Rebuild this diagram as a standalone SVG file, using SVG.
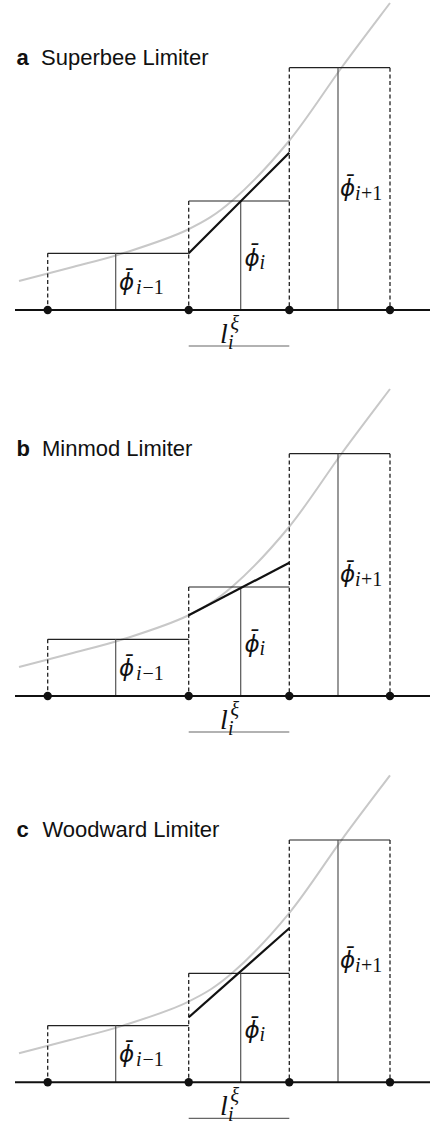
<svg xmlns="http://www.w3.org/2000/svg" width="431" height="1124" viewBox="0 0 431 1124">
<style>
.axis{stroke:#111;stroke-width:2}
.box{stroke:#222;stroke-width:1.2;fill:none}
.mid{stroke:#555;stroke-width:1.2}
.dash{stroke:#222;stroke-width:1.3;stroke-dasharray:4 2.7}
.curve{stroke:#c8c8c8;stroke-width:2;fill:none}
.recon{stroke:#111;stroke-width:2.2}
.dot{fill:#111}
.ul{stroke:#666;stroke-width:1.2}
.title{font-family:"Liberation Sans",Arial,sans-serif;font-size:22px;fill:#111}
.tb{font-weight:bold}
.math{font-family:"Liberation Serif","Times New Roman",serif;font-style:italic;font-size:25px;fill:#111}
.phi{font-family:"DejaVu Sans",sans-serif;font-size:23px}
.ell{font-size:28px}
.sub{font-size:20px}
.up{font-style:normal}
</style>
<rect width="431" height="1124" fill="#fff"/>
<defs>
<g id="base">
<path class="curve" d="M19,281 C27.5,278.8 52.7,272.3 70,267.7 C87.3,263.1 103.5,259.6 123,253.3 C142.5,247 168.7,238.9 187,230 C205.3,221.1 216,214.8 233,200 C250,185.2 270.8,163.2 289,141 C307.2,118.8 325.2,90 342,67 C358.8,44 382,13.7 390,3"/>
<path class="box" d="M47.7,253.3 H188.7 M188.7,201 H289.3 M289.3,67.7 H390"/>
<path class="mid" d="M115.7,253.3 V310 M240.7,201 V310 M338,67.7 V310"/>
<path class="dash" d="M47.7,253.3 V310 M188.7,201 V310 M289.3,67.7 V310 M390,67.7 V310"/>
</g>
<g id="axis">
<line class="axis" x1="15" y1="310" x2="430" y2="310"/>
<circle class="dot" cx="47.7" cy="310" r="4.2"/>
<circle class="dot" cx="188.7" cy="310" r="4.2"/>
<circle class="dot" cx="289.3" cy="310" r="4.2"/>
<circle class="dot" cx="390" cy="310" r="4.2"/>
<line class="ul" x1="188.7" y1="346" x2="289.3" y2="346"/>
</g>
</defs>

<g id="panel-a">
<text class="title" y="64.5"><tspan class="tb" x="16.5">a</tspan><tspan x="41">Superbee Limiter</tspan></text>
<use href="#base"/>
<line class="recon" x1="188.7" y1="253.3" x2="289.3" y2="152.7"/>
<use href="#axis"/>
<text class="math"><tspan class="phi" x="119" y="290">ϕ̄</tspan><tspan class="sub" x="136" y="293.5">i</tspan><tspan class="sub up" dx="1">−1</tspan></text>
<text class="math"><tspan class="phi" x="244.5" y="265.5">ϕ̄</tspan><tspan class="sub" x="259.5" y="268.5">i</tspan></text>
<text class="math"><tspan class="phi" x="340" y="196">ϕ̄</tspan><tspan class="sub" x="355" y="199.5">i</tspan><tspan class="sub up" dx="0.5">+1</tspan></text>
<text class="math"><tspan class="ell" x="220" y="342.5">l</tspan><tspan class="sub" x="230.5" y="330">ξ</tspan><tspan class="sub" x="228" y="349">i</tspan></text>
</g>

<g id="panel-b" transform="translate(0,386)">
<text class="title" y="70"><tspan class="tb" x="16.5">b</tspan><tspan x="42">Minmod Limiter</tspan></text>
<use href="#base"/>
<line class="recon" x1="188.7" y1="229.3" x2="289.3" y2="176.7"/>
<use href="#axis"/>
<text class="math"><tspan class="phi" x="119" y="290">ϕ̄</tspan><tspan class="sub" x="136" y="293.5">i</tspan><tspan class="sub up" dx="1">−1</tspan></text>
<text class="math"><tspan class="phi" x="244.5" y="265.5">ϕ̄</tspan><tspan class="sub" x="259.5" y="268.5">i</tspan></text>
<text class="math"><tspan class="phi" x="340" y="196">ϕ̄</tspan><tspan class="sub" x="355" y="199.5">i</tspan><tspan class="sub up" dx="0.5">+1</tspan></text>
<text class="math"><tspan class="ell" x="220" y="342.5">l</tspan><tspan class="sub" x="230.5" y="330">ξ</tspan><tspan class="sub" x="228" y="349">i</tspan></text>
</g>

<g id="panel-c" transform="translate(0,772.3)">
<text class="title" y="65.2"><tspan class="tb" x="16.5">c</tspan><tspan x="42.5">Woodward Limiter</tspan></text>
<use href="#base"/>
<line class="recon" x1="188.7" y1="245" x2="289.3" y2="156"/>
<use href="#axis"/>
<text class="math"><tspan class="phi" x="119" y="290">ϕ̄</tspan><tspan class="sub" x="136" y="293.5">i</tspan><tspan class="sub up" dx="1">−1</tspan></text>
<text class="math"><tspan class="phi" x="244.5" y="265.5">ϕ̄</tspan><tspan class="sub" x="259.5" y="268.5">i</tspan></text>
<text class="math"><tspan class="phi" x="340" y="196">ϕ̄</tspan><tspan class="sub" x="355" y="199.5">i</tspan><tspan class="sub up" dx="0.5">+1</tspan></text>
<text class="math"><tspan class="ell" x="220" y="342.5">l</tspan><tspan class="sub" x="230.5" y="330">ξ</tspan><tspan class="sub" x="228" y="349">i</tspan></text>
</g>
</svg>
